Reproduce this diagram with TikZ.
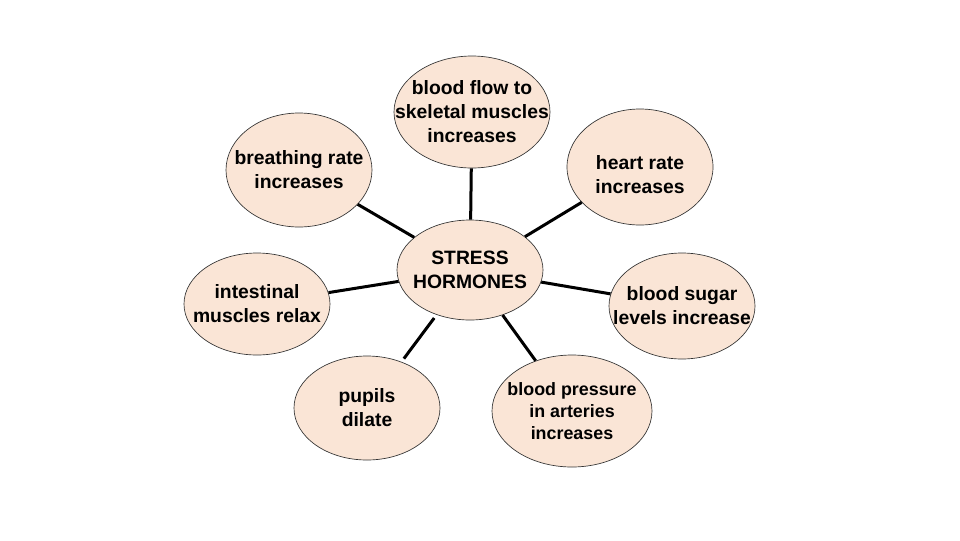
\documentclass[tikz,border=0pt]{standalone}
\usepackage{fontspec}
\setmainfont{Liberation Sans}
\usepackage{xcolor}
\usetikzlibrary{shapes.geometric}
\definecolor{bubblefill}{RGB}{250,229,214}

\begin{document}
\begin{tikzpicture}[
    x=0.75pt, y=-0.75pt,
    bubble/.style={draw=black!80, line width=0.5pt, ellipse, fill=bubblefill, inner sep=0pt, minimum width=109.5pt},
    txt/.style={align=center, font=\bfseries\fontsize{14.5}{18}\selectfont},
    small/.style={align=center, font=\bfseries\fontsize{13.4}{16.5}\selectfont},
    link/.style={line width=2.25pt},
]
\useasboundingbox (0,0) rectangle (960,540);
\node[bubble, minimum width=117pt, minimum height=84pt, label={[txt]center:blood flow to\\skeletal muscles\\increases}] (flow) at (472,112) {};
\node[bubble, minimum height=85.5pt, label={[txt]center:breathing rate\\increases}] (breath) at (299,170) {};
\node[bubble, minimum height=87pt, label={[txt, yshift=-6pt]center:heart rate\\increases}] (heart) at (640,167) {};
\node[bubble, minimum height=75pt, label={[txt]center:STRESS\\HORMONES}] (stress) at (470,270) {};
\node[bubble, minimum height=76.5pt, label={[txt]center:intestinal\\muscles relax}] (intest) at (257,304) {};
\node[bubble, minimum height=79.5pt, label={[txt]center:blood sugar\\levels increase}] (sugar) at (682,306) {};
\node[bubble, minimum height=78pt, label={[txt]center:pupils\\dilate}] (pupils) at (367,408) {};
\node[bubble, minimum width=120pt, minimum height=84pt, label={[small]center:blood pressure\\in arteries\\increases}] (press) at (572,411) {};
\draw[link] (flow) -- (stress);
\draw[link] (breath) -- (stress);
\draw[link] (heart) -- (stress);
\draw[link] (intest) -- (stress);
\draw[link] (sugar) -- (stress);
\draw[link, shorten <=3pt, shorten >=3pt] (pupils) -- (stress);
\draw[link] (press) -- (stress);
\end{tikzpicture}
\end{document}
